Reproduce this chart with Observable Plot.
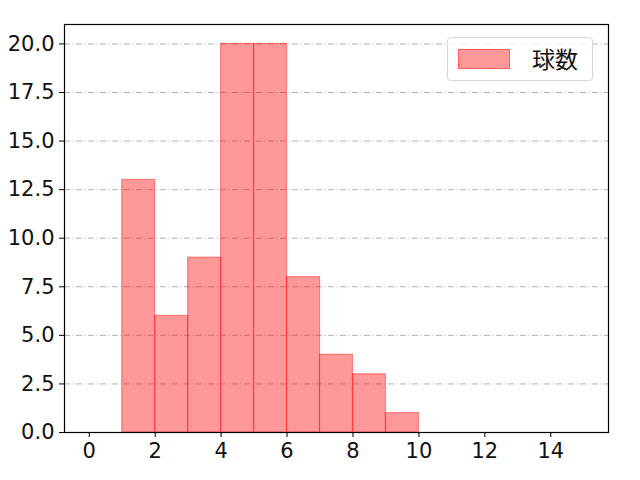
<!DOCTYPE html>
<html>
<head>
<meta charset="utf-8">
<script src="https://cdn.jsdelivr.net/npm/d3@7"></script>
<script src="https://cdn.jsdelivr.net/npm/@observablehq/plot@0.6"></script>
<style>
  html, body { margin: 0; padding: 0; background: #fff; }
  #wrap { position: relative; width: 640px; height: 480px; font-family: "Noto Sans CJK JP", "DejaVu Sans", sans-serif; }
  #wrap svg text { font-size: 21px !important; font-family: "DejaVu Sans", sans-serif !important; fill: #111; }
  #legend { position: absolute; left: 447px; top: 37px; width: 146px; height: 44px; border: 1px solid #d6d6d6; border-radius: 4px; background: rgba(255,255,255,0.8); box-sizing: border-box; }
  #legend .patch { position: absolute; left: 10px; top: 11px; width: 52px; height: 20px; background: rgba(255,0,0,0.4); border: 1px solid rgba(255,0,0,0.4); box-sizing: border-box; }
  #legend .label { position: absolute; left: 84px; top: 4px; font-size: 23px; line-height: 32px; color: #111; }
</style>
</head>
<body>
<div id="wrap"><div id="legend"><div class="patch"></div><div class="label"></div></div></div>
<script>
const seriesName = "球数";
const binStarts = [0, 1, 2, 3, 4, 5, 6, 7, 8, 9, 10, 11, 12, 13, 14];
const counts    = [0, 13, 6, 9, 20, 20, 8, 4, 3, 1, 0, 0, 0, 0, 0];
const xTicks = [0, 2, 4, 6, 8, 10, 12, 14];
const yTicks = [0, 2.5, 5, 7.5, 10, 12.5, 15, 17.5, 20];

const data = binStarts.map((s, i) => ({x1: s, x2: s + 1, y: counts[i]}));

const chart = Plot.plot({
  width: 640,
  height: 480,
  marginLeft: 64,
  marginRight: 32,
  marginTop: 24,
  marginBottom: 48,
  style: {fontFamily: '"DejaVu Sans", sans-serif', fontSize: "21px", color: "#111", background: "white"},
  x: {domain: [-0.75, 15.75]},
  y: {domain: [0, 21]},
  marks: [
    Plot.ruleY(yTicks, {stroke: "#b0b0b0", strokeWidth: 1, strokeDasharray: "6,2.5,1,2.5"}),
    Plot.rectY(data, {x1: "x1", x2: "x2", y: "y", fill: "red", fillOpacity: 0.4, stroke: "red", strokeOpacity: 0.4, strokeWidth: 1.2, inset: 0}),
    Plot.axisX({ticks: xTicks, tickFormat: d => String(d), tickSize: 5, tickPadding: 6, label: null, stroke: "black"}),
    Plot.axisY({ticks: yTicks, tickFormat: d => d.toFixed(1), tickSize: 5, tickPadding: 5, label: null, stroke: "black"}),
    Plot.frame({stroke: "black", strokeWidth: 1.2})
  ]
});
document.getElementById("wrap").prepend(chart);
chart.style.position = "absolute";
chart.style.left = "0px";
chart.style.top = "0px";
document.querySelector("#legend .label").textContent = seriesName;
</script>
</body>
</html>
